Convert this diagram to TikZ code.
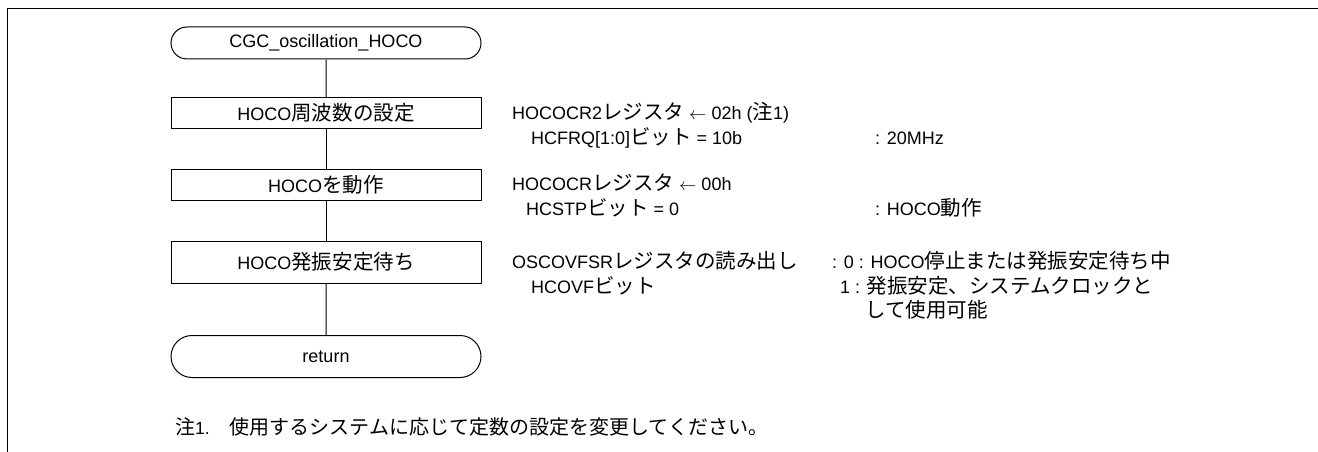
\documentclass[tikz,border=0pt]{standalone}
\usepackage{fontspec}
\setmainfont{Liberation Sans}
\newfontfamily\jp{Noto Sans CJK JP}[Scale=1.139]
\usetikzlibrary{shapes.misc}
\newcommand\J[1]{{\jp #1}}
\begin{document}
\begin{tikzpicture}[x=1pt,y=-1pt,
  every node/.style={font=\fontsize{18}{21}\selectfont},
  term/.style={draw, line width=1pt, rounded rectangle, minimum width=310pt, inner sep=0pt},
  proc/.style={draw, line width=1pt, rectangle, minimum width=310pt, inner sep=0pt},
  note/.style={anchor=west, inner sep=0pt},
  link/.style={line width=1pt},
  frame/.style={line width=1.6pt}]
\useasboundingbox (0,0) rectangle (1318,452);
\draw[frame] (1318,8.5) -- (7.5,8.5) -- (7.5,452);

\node[term, minimum height=32pt] (start) at (326,43) {CGC\_oscillation\_HOCO};
\node[proc, minimum height=30pt] (p1) at (326,113) {HOCO\J{周波数の設定}};
\node[proc, minimum height=31pt] (p2) at (326,184.5) {HOCO\J{を動作}};
\node[proc, minimum height=42pt] (p3) at (326,262) {HOCO\J{発振安定待ち}};
\node[term, minimum height=42pt] (ret) at (326,356.5) {return};

\draw[link] (start) -- (p1);
\draw[link] (p1) -- (p2);
\draw[link] (p2) -- (p3);
\draw[link] (p3) -- (ret);

\node[note] (t1) at (512,113) {HOCOCR2\J{レジスタ} $\leftarrow$ 02h (\J{注}1)};
\node[note] (t2) at (531,138) {HCFRQ[1:0]\J{ビット} = 10b};
\node[note] (t2b) at (875,138) {: 20MHz};
\node[note] (t3) at (512,183) {HOCOCR\J{レジスタ} $\leftarrow$ 00h};
\node[note] (t4) at (526,208) {HCSTP\J{ビット} = 0};
\node[note] (t4b) at (875,208) {: HOCO\J{動作}};
\node[note] (t5) at (512,261) {OSCOVFSR\J{レジスタの読み出し}};
\node[note] (t5b) at (832,261) {: 0 : HOCO\J{停止または発振安定待ち中}};
\node[note] (t6) at (531,285.5) {HCOVF\J{ビット}};
\node[note] (t6b) at (840,285.5) {1 : \J{発振安定、システムクロックと}};
\node[note] (t7) at (865,310) {\J{して使用可能}};

\node[note, font=\fontsize{17.56}{21}\selectfont] (fn) at (175,427) {\J{注}1.\hspace{20pt}\J{使用するシステムに応じて定数の設定を変更してください。}};
\end{tikzpicture}
\end{document}
